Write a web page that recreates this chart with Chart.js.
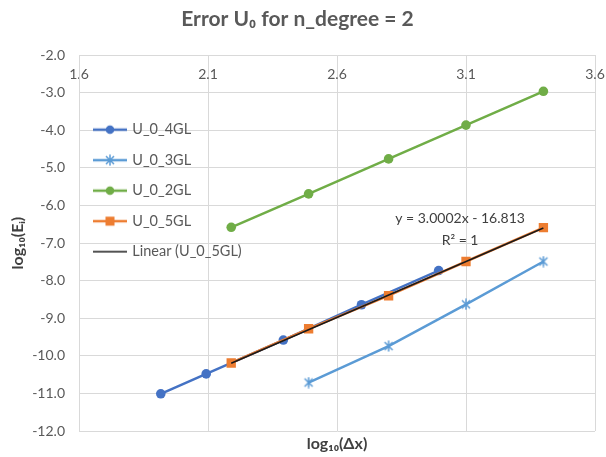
<!DOCTYPE html>
<html>
<head>
<meta charset="utf-8">
<script src="https://cdn.jsdelivr.net/npm/chart.js@4.4.1/dist/chart.umd.min.js"></script>
<style>
html,body{margin:0;padding:0;background:#fff;}
#wrap{width:606px;height:457px;}
</style>
</head>
<body>
<div id="wrap"><canvas id="errChart" width="606" height="457"></canvas></div>
<script>
// values (log10 dx, log10 error)
const xTicks = [1.6, 2.1, 2.6, 3.1, 3.6];
const yMin = -12, yMax = -2;

const seriesNames = ["U_0_4GL", "U_0_3GL", "U_0_2GL", "U_0_5GL", "Linear (U_0_5GL)"];

const x4GL = [1.917, 2.093, 2.392, 2.695, 2.994];
const y4GL = [-11.01, -10.48, -9.58, -8.64, -7.73];

const x3GL = [2.49, 2.80, 3.10, 3.40];
const y3GL = [-10.71, -9.74, -8.63, -7.49];

const x2GL = [2.19, 2.49, 2.80, 3.10, 3.40];
const y2GL = [-6.58, -5.69, -4.76, -3.86, -2.96];

const x5GL = [2.19, 2.49, 2.80, 3.10, 3.40];
const y5GL = [-10.19, -9.28, -8.40, -7.49, -6.59];

const xTrend = [2.19, 3.40];
const yTrend = [-10.20, -6.60];

const trendText = ["y = 3.0002x - 16.813", "R² = 1"];
const trendLabelAt = [3.077, -6.35];

const FONT = "Lato, 'Open Sans', sans-serif";
const GRAY = "#595959";

function pts(xs, ys){
  return xs.map((x,i)=>({x:x, y:ys[i]}));
}

// excel style star marker
function starImage(color){
  let c = document.createElement("canvas");
  c.width = 12; c.height = 12;
  let g = c.getContext("2d");
  g.strokeStyle = color; g.lineWidth = 1.5;
  g.beginPath();
  g.moveTo(2,2); g.lineTo(10,10);
  g.moveTo(10,2); g.lineTo(2,10);
  g.moveTo(6,0.5); g.lineTo(6,11.5);
  g.stroke();
  return c;
}

// legend sample: line with marker in the middle
function legendIcon(color, marker, lw){
  let c = document.createElement("canvas");
  c.width = 34; c.height = 12;
  let g = c.getContext("2d");
  g.strokeStyle = color; g.fillStyle = color; g.lineWidth = lw;
  g.beginPath(); g.moveTo(0,6); g.lineTo(34,6); g.stroke();
  if(marker === "circle"){
    g.beginPath(); g.arc(17,6,4.3,0,Math.PI*2); g.fill();
  } else if(marker === "rect"){
    g.fillRect(12.5,1.5,9,9);
  } else if(marker === "star"){
    g.drawImage(starImage(color), 11, 0);
  }
  return c;
}

const colors = ["#4472C4", "#5B9BD5", "#70AD47", "#ED7D31", "#1a1a1a"];
const markers = ["circle", "star", "circle", "rect", null];

const trendLabel = {
  id: "trendLabel",
  afterDatasetsDraw(chart){
    const c = chart.ctx;
    const px = chart.scales.x.getPixelForValue(trendLabelAt[0]);
    const py = chart.scales.y.getPixelForValue(trendLabelAt[1]);
    c.save();
    c.font = "14px " + FONT;
    c.fillStyle = "#404040";
    c.textAlign = "center";
    c.textBaseline = "middle";
    c.fillText(trendText[0], px, py);
    c.fillText(trendText[1], px, py + 22);
    c.restore();
  }
};

new Chart(document.getElementById("errChart"), {
  type: "scatter",
  data: {
    datasets: [
      {label: seriesNames[0], data: pts(x4GL,y4GL), showLine: true, order: 4,
       borderColor: colors[0], backgroundColor: colors[0], borderWidth: 2.5,
       pointStyle: "circle", pointRadius: 4.8, pointBorderWidth: 0},
      {label: seriesNames[1], data: pts(x3GL,y3GL), showLine: true, order: 3,
       borderColor: colors[1], backgroundColor: colors[1], borderWidth: 2.5,
       pointStyle: starImage(colors[1]), pointRadius: 6},
      {label: seriesNames[2], data: pts(x2GL,y2GL), showLine: true, order: 2,
       borderColor: colors[2], backgroundColor: colors[2], borderWidth: 2.5,
       pointStyle: "circle", pointRadius: 4.8, pointBorderWidth: 0},
      {label: seriesNames[3], data: pts(x5GL,y5GL), showLine: true, order: 1,
       borderColor: colors[3], backgroundColor: colors[3], borderWidth: 2.5,
       pointStyle: "rect", pointRadius: 6.6, pointBorderWidth: 0},
      {label: seriesNames[4], data: pts(xTrend,yTrend), showLine: true, order: 0,
       borderColor: colors[4], borderWidth: 1.6, pointRadius: 0}
    ]
  },
  options: {
    responsive: false,
    animation: false,
    devicePixelRatio: 1,
    layout: {padding: {left: 0, right: 11, top: 0, bottom: 0}},
    scales: {
      x: {
        type: "linear", position: "top", min: xTicks[0], max: xTicks[xTicks.length-1],
        afterBuildTicks: (s) => { s.ticks = xTicks.map(v => ({value: v})); },
        afterFit: (s) => { s.height = 10; s.paddingLeft = 0; s.paddingRight = 0; },
        grid: {color: "#d9d9d9", drawTicks: false},
        border: {color: "#d9d9d9"},
        ticks: {mirror: true, padding: 11, color: GRAY, font: {family: FONT, size: 14},
                callback: (v) => v.toFixed(1)}
      },
      xb: {
        type: "linear", position: "bottom", min: xTicks[0], max: xTicks[xTicks.length-1],
        afterFit: (s) => { s.height = 26; s.paddingLeft = 0; s.paddingRight = 0; },
        grid: {display: false}, border: {display: false},
        ticks: {display: false},
        title: {display: true, text: "log₁₀(Δx)", color: "#404040",
                font: {family: FONT, size: 16, weight: "bold"}, padding: {top: 0, bottom: 3.5}}
      },
      y: {
        type: "linear", min: yMin, max: yMax,
        afterFit: (s) => { s.width = 79; },
        grid: {color: "#d9d9d9", drawTicks: false},
        border: {color: "#d9d9d9"},
        ticks: {stepSize: 1, padding: 14, color: GRAY, font: {family: FONT, size: 14},
                callback: (v) => v.toFixed(1)},
        title: {display: true, text: "log₁₀(Eᵢ)", color: "#404040",
                font: {family: FONT, size: 16, weight: "bold"}, padding: {top: 8.5, bottom: 0}}
      }
    },
    plugins: {
      tooltip: {enabled: false},
      title: {
        display: true, text: "Error U₀ for n_degree = 2", color: GRAY,
        font: {family: FONT, size: 21, weight: "bold"}, padding: {top: 6.5, bottom: 13.5}
      },
      legend: {
        position: "chartArea", align: "start",
        title: {display: true, text: " ", padding: {top: 92, bottom: 0}},
        labels: {
          usePointStyle: true, pointStyleWidth: 30, padding: 16,
          color: GRAY, font: {family: FONT, size: 14.5},
          generateLabels: (chart) => seriesNames.map((name, i) => ({
            text: name, datasetIndex: i, fontColor: GRAY,
            pointStyle: legendIcon(colors[i], markers[i], i === 4 ? 1.6 : 2.5),
            fillStyle: colors[i], strokeStyle: colors[i], lineWidth: 0, hidden: false
          }))
        }
      }
    }
  },
  plugins: [trendLabel]
});
</script>
</body>
</html>
